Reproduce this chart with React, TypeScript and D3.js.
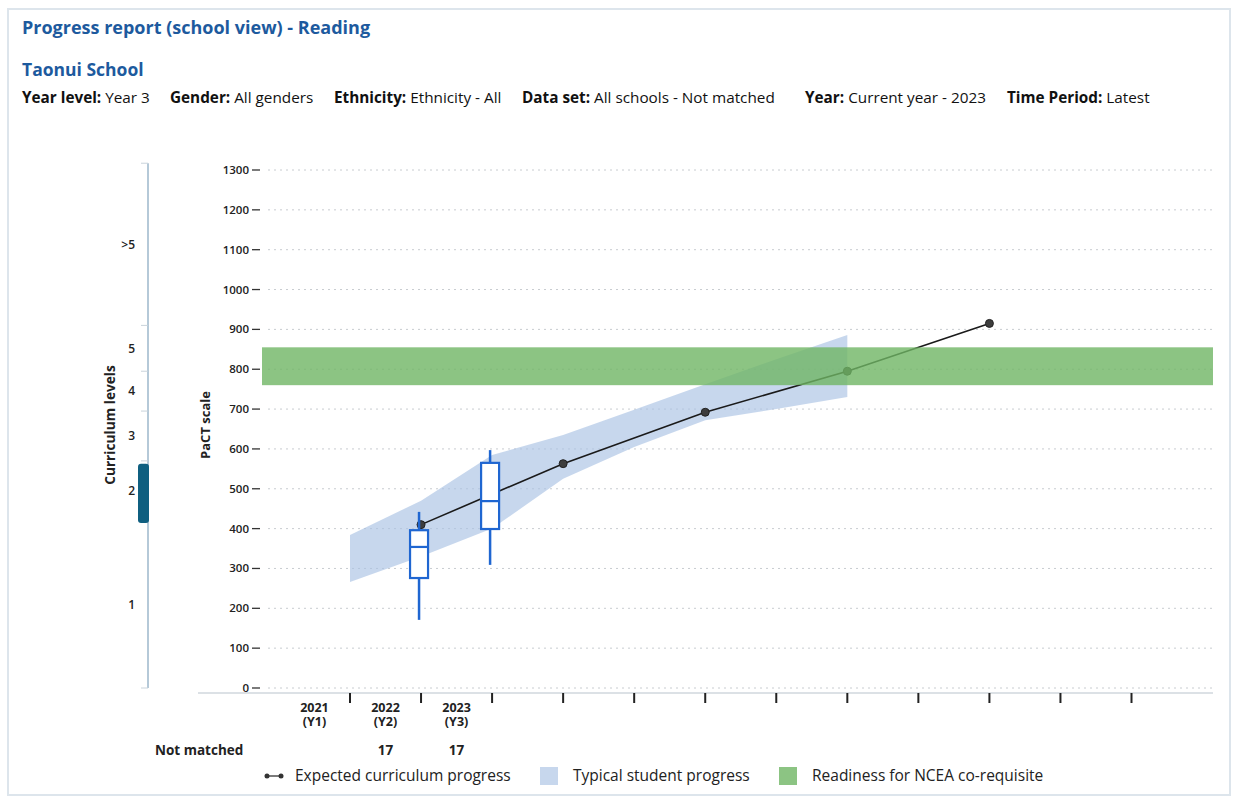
import React from "react";
import * as d3 from "d3";

const yTickValues = [0, 100, 200, 300, 400, 500, 600, 700, 800, 900, 1000, 1100, 1200, 1300];
const xTickIndex = [0, 1, 2, 3, 4, 5, 6, 7, 8, 9, 10, 11];
const yearLabels = ["2021", "2022", "2023"];
const yearSubLabels = ["(Y1)", "(Y2)", "(Y3)"];
const yearLabelIndex = [-0.5, 0.5, 1.5];
const notMatchedCounts = ["", "17", "17"];

const expectedIndex = [1, 3, 5, 7, 9];
const expectedValues = [410, 563, 692, 795, 915];

const bandIndex = [0, 1, 2, 3, 4, 5, 6, 7];
const bandLow = [266, 330, 400, 525, 605, 672, 700, 730];
const bandHigh = [384, 470, 585, 635, 698, 762, 825, 886];

const boxIndex = [1, 2];
const boxMin = [171, 309];
const boxQ1 = [276, 399];
const boxMedian = [354, 469];
const boxQ3 = [396, 565];
const boxMax = [442, 597];

const nceaRange = [760, 855];

const curriculumBoundaries = [0, 420, 570, 695, 795, 910, 1317];
const curriculumLabels = ["1", "2", "3", "4", "5", ">5"];
const currentLevelRange = [414, 563];

const filters = [
  { label: "Year level:", value: "Year 3", x: 22 },
  { label: "Gender:", value: "All genders", x: 170 },
  { label: "Ethnicity:", value: "Ethnicity - All", x: 334 },
  { label: "Data set:", value: "All schools - Not matched", x: 522 },
  { label: "Year:", value: "Current year - 2023", x: 805 },
  { label: "Time Period:", value: "Latest", x: 1007 },
];

const FONT = "'Open Sans', 'Noto Sans', sans-serif";
const BLUE_TITLE = "#1d5a9e";

export default function App() {
  const y = d3.scaleLinear().domain([0, 1300]).range([688, 170]);
  const x = d3.scaleLinear().domain([0, 11]).range([350, 1131.5]);
  const plotLeft = 262;
  const plotRight = 1213;
  const axisY = 693;

  const bandArea = d3
    .area<number>()
    .x((d) => x(bandIndex[d]))
    .y0((d) => y(bandLow[d]))
    .y1((d) => y(bandHigh[d]));
  const bandPath = bandArea(bandIndex.map((_, i) => i)) || "";

  const line = d3
    .line<number>()
    .x((d) => x(expectedIndex[d]))
    .y((d) => y(expectedValues[d]));
  const linePath = line(expectedIndex.map((_, i) => i)) || "";

  const boxW = 18;
  const boxColor = "#1f66d1";

  return (
    <svg
      width={1237}
      height={801}
      style={{ position: "absolute", left: 0, top: 0, background: "#ffffff" }}
      fontFamily={FONT}
    >
      <rect x={8} y={9} width={1222} height={786} fill="#ffffff" stroke="#dde5ec" strokeWidth={2} />

      {/* Titles */}
      <text x={22} y={34} fontSize={18} fontWeight={700} fill={BLUE_TITLE}>
        Progress report (school view) - Reading
      </text>
      <text x={22} y={76} fontSize={17.5} fontWeight={700} fill={BLUE_TITLE}>
        Taonui School
      </text>
      {filters.map((f, i) => (
        <text key={i} x={f.x} y={103} fontSize={15.3} fill="#111">
          <tspan fontWeight={700}>{f.label}</tspan>
          <tspan> {f.value}</tspan>
        </text>
      ))}

      {/* Curriculum levels axis */}
      <line x1={148} x2={148} y1={y(curriculumBoundaries[curriculumBoundaries.length - 1])} y2={688} stroke="#9db7cb" strokeWidth={1.5} />
      {curriculumBoundaries.map((b, i) => (
        <line key={i} x1={141} x2={148} y1={y(b)} y2={y(b)} stroke="#c9d3db" strokeWidth={1} />
      ))}
      {curriculumLabels.map((lab, i) => (
        <text
          key={i}
          x={135}
          y={y((curriculumBoundaries[i] + curriculumBoundaries[i + 1]) / 2)}
          dy="0.35em"
          textAnchor="end"
          fontSize={12}
          fontWeight={600}
          fill="#222"
        >
          {lab}
        </text>
      ))}
      <rect
        x={138}
        y={y(currentLevelRange[1])}
        width={11}
        height={y(currentLevelRange[0]) - y(currentLevelRange[1])}
        rx={3}
        fill="#0f5f80"
      />
      <text
        transform={`translate(115, 425) rotate(-90)`}
        textAnchor="middle"
        fontSize={13.7}
        fontWeight={700}
        fill="#222"
      >
        Curriculum levels
      </text>

      {/* PaCT axis title */}
      <text
        transform={`translate(210, 425) rotate(-90)`}
        textAnchor="middle"
        fontSize={13}
        fontWeight={700}
        fill="#222"
      >
        PaCT scale
      </text>

      {/* Gridlines and y ticks */}
      {yTickValues.map((v) => (
        <g key={v}>
          <line
            x1={plotLeft + 6}
            x2={plotRight}
            y1={y(v)}
            y2={y(v)}
            stroke="#c8ccd0"
            strokeWidth={1}
            strokeDasharray="2,4"
          />
          <line x1={252} x2={260} y1={y(v)} y2={y(v)} stroke="#333" strokeWidth={1.3} />
          <text x={249} y={y(v)} dy="0.35em" textAnchor="end" fontSize={11.5} fontWeight={600} fill="#222">
            {v}
          </text>
        </g>
      ))}

      {/* Typical student progress band */}
      <path d={bandPath} fill="#a9c2e3" fillOpacity={0.65} />

      {/* Expected curriculum progress */}
      <path d={linePath} fill="none" stroke="#1a1a1a" strokeWidth={1.6} />
      {expectedIndex.map((idx, i) => (
        <circle key={i} cx={x(idx)} cy={y(expectedValues[i])} r={4} fill="#3d3d3d" stroke="#222" strokeWidth={1} />
      ))}

      {/* Box plots */}
      {boxIndex.map((idx, i) => {
        const cx = x(idx) - 2;
        return (
          <g key={i}>
            <line x1={cx} x2={cx} y1={y(boxMax[i])} y2={y(boxQ3[i])} stroke={boxColor} strokeWidth={2.5} />
            <line x1={cx} x2={cx} y1={y(boxQ1[i])} y2={y(boxMin[i])} stroke={boxColor} strokeWidth={2.5} />
            <rect
              x={cx - boxW / 2}
              y={y(boxQ3[i])}
              width={boxW}
              height={y(boxQ1[i]) - y(boxQ3[i])}
              fill="#ffffff"
              stroke={boxColor}
              strokeWidth={2.2}
            />
            <line x1={cx - boxW / 2} x2={cx + boxW / 2} y1={y(boxMedian[i])} y2={y(boxMedian[i])} stroke={boxColor} strokeWidth={2.2} />
          </g>
        );
      })}

      {/* NCEA readiness band */}
      <rect
        x={plotLeft}
        y={y(nceaRange[1])}
        width={plotRight - plotLeft}
        height={y(nceaRange[0]) - y(nceaRange[1])}
        fill="#6fb564"
        fillOpacity={0.8}
      />

      {/* X axis */}
      <line x1={198} x2={plotRight} y1={axisY} y2={axisY} stroke="#b9c3cc" strokeWidth={1} />
      {xTickIndex.map((i) => (
        <line key={i} x1={x(i)} x2={x(i)} y1={axisY} y2={axisY + 10} stroke="#222" strokeWidth={2} />
      ))}
      {yearLabels.map((lab, i) => (
        <g key={i}>
          <text x={x(yearLabelIndex[i])} y={712} textAnchor="middle" fontSize={12.5} fontWeight={700} fill="#222">
            <tspan x={x(yearLabelIndex[i])} y={712}>{lab}</tspan>
            <tspan x={x(yearLabelIndex[i])} y={726}>{yearSubLabels[i]}</tspan>
          </text>
          <text x={x(yearLabelIndex[i])} y={755} textAnchor="middle" fontSize={13.5} fontWeight={700} fill="#222">
            {notMatchedCounts[i]}
          </text>
        </g>
      ))}
      <text x={155} y={755} fontSize={13.5} fontWeight={700} fill="#222">
        Not matched
      </text>

      {/* Legend */}
      <g>
        <line x1={266} x2={281} y1={776} y2={776} stroke="#333" strokeWidth={1.3} />
        <circle cx={267} cy={776} r={2.5} fill="#333" />
        <circle cx={281} cy={776} r={2.5} fill="#333" />
        <text x={295} y={781} fontSize={15.5} fill="#222">
          Expected curriculum progress
        </text>
        <rect x={540} y={767} width={18} height={18} fill="#a9c2e3" fillOpacity={0.65} />
        <text x={573} y={781} fontSize={15.5} fill="#222">
          Typical student progress
        </text>
        <rect x={779} y={767} width={18} height={18} fill="#6fb564" fillOpacity={0.8} />
        <text x={812} y={781} fontSize={15.5} fill="#222">
          Readiness for NCEA co-requisite
        </text>
      </g>
    </svg>
  );
}
